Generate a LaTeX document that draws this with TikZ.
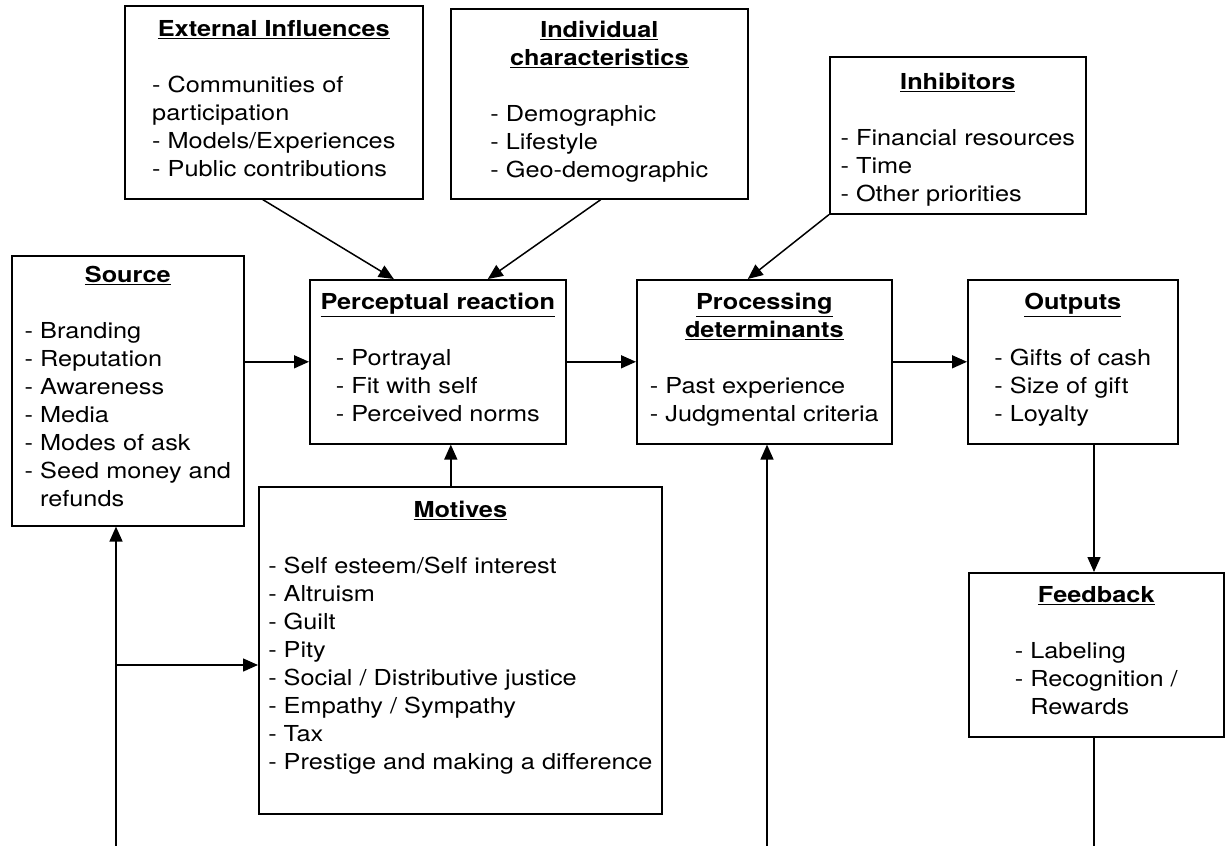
\documentclass[tikz,border=0pt]{standalone}
\usepackage{fontspec}
\setmainfont{TeX Gyre Heros}[FakeStretch=1.15]
\usetikzlibrary{arrows.meta}

\newcommand{\boxtitle}[1]{\underline{\textbf{#1}}}
\newcommand{\boxitems}[1]{\begin{tabular}[t]{@{}l@{}}#1\end{tabular}}

\begin{document}
\begin{tikzpicture}[x=1pt,y=-1pt,
    box/.style={draw,line width=1.6pt,rectangle,anchor=north west,align=center,inner sep=0pt,
        font=\fontsize{22}{28}\selectfont},
    arr/.style={line width=1.5pt,-{Triangle[length=15pt,width=13pt]}},
    plain/.style={line width=1.5pt}]
        \useasboundingbox (0,0) rectangle (1227,846);

        % top row
        \node[box,minimum width=298pt,minimum height=193pt] (extinf) at (124,5)
            {\boxtitle{External Influences}\\[28pt]
             \boxitems{- Communities of\\participation\\- Models/Experiences\\- Public contributions}};
        \node[box,minimum width=297pt,minimum height=190pt] (indiv) at (450,8)
            {\boxtitle{Individual}\\\boxtitle{characteristics}\\[28pt]
             \boxitems{- Demographic\\- Lifestyle\\- Geo-demographic}};
        \node[box,minimum width=256pt,minimum height=157pt] (inhib) at (829,56)
            {\rule{0pt}{28pt}\boxtitle{Inhibitors}\\[28pt]
             \boxitems{- Financial resources\\- Time\\- Other priorities}};

        % middle row
        \node[box,minimum width=232pt,minimum height=270pt] (source) at (11,255)
            {\boxtitle{Source}\\[28pt]
             \boxitems{- Branding\\- Reputation\\- Awareness\\- Media\\- Modes of ask\\- Seed money and\\\phantom{- }refunds}};
        \node[box,minimum width=256pt,minimum height=164pt] (percep) at (309,279)
            {\boxtitle{Perceptual reaction}\\[28pt]
             \boxitems{- Portrayal\\- Fit with self\\- Perceived norms}};
        \node[box,minimum width=255pt,minimum height=164pt] (proc) at (636,279)
            {\boxtitle{Processing}\\\boxtitle{determinants}\\[28pt]
             \boxitems{- Past experience\\- Judgmental criteria}};
        \node[box,minimum width=210pt,minimum height=164pt] (outputs) at (967,279)
            {\boxtitle{Outputs}\\[28pt]
             \boxitems{- Gifts of cash\\- Size of gift\\- Loyalty}};

        % bottom row
        \node[box,minimum width=403pt,minimum height=327pt] (motives) at (258,486)
            {\boxtitle{Motives}\\[28pt]
             \boxitems{- Self esteem/Self interest\\- Altruism\\- Guilt\\- Pity\\- Social / Distributive justice\\- Empathy / Sympathy\\- Tax\\- Prestige and making a difference}\\[20pt]\mbox{}};
        \node[box,minimum width=255pt,minimum height=164pt] (feedback) at (968,572)
            {\boxtitle{Feedback}\\[28pt]
             \boxitems{- Labeling\\- Recognition /\\\phantom{- }Rewards}};

        % loose ends at the lower edge
        \coordinate (srcfoot) at (116,846);
        \coordinate (srcjoin) at (116,665);
        \coordinate (procfoot) at (767,846);
        \coordinate (fbfoot) at (1094,846);

        % influences from above and below
        \draw[arr] ([xshift=-11pt]extinf.south) -- ([xshift=-44pt]percep.north);
        \draw[arr] ([xshift=1.5pt]indiv.south) -- ([xshift=50pt]percep.north);
        \draw[arr] (inhib.south west) -- ([xshift=-16.5pt]proc.north);
        \draw[arr] ([xshift=-9.5pt]motives.north) -- ([xshift=-9.5pt]motives.north |- percep.south);

        % main chain
        \draw[arr] (source.east |- percep.west) -- (percep.west);
        \draw[arr] (percep.east) -- (proc.west);
        \draw[arr] (proc.east) -- (outputs.west);
        \draw[arr] (fbfoot |- outputs.south) -- (fbfoot |- feedback.north);

        % return lines
        \draw[arr] (srcfoot) -- (srcfoot |- source.south);
        \draw[arr] (srcjoin) -- (srcjoin -| motives.west);
        \draw[arr] (procfoot) -- (procfoot |- proc.south);
        \draw[plain] (fbfoot |- feedback.south) -- (fbfoot);
\end{tikzpicture}
\end{document}
